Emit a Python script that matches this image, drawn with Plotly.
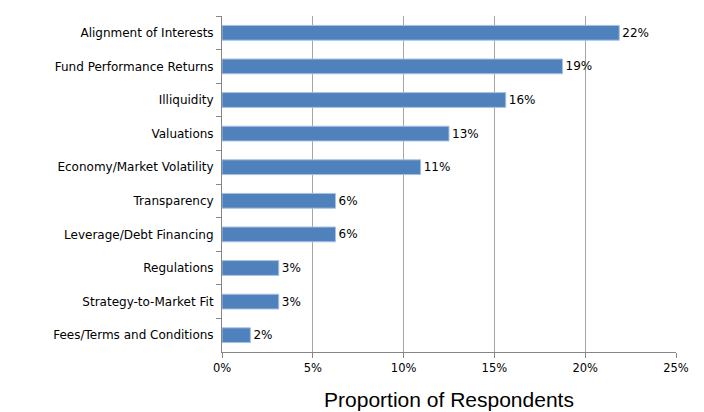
import plotly.graph_objects as go

categories = ["Alignment of Interests", "Fund Performance Returns", "Illiquidity", "Valuations",
              "Economy/Market Volatility", "Transparency", "Leverage/Debt Financing",
              "Regulations", "Strategy-to-Market Fit", "Fees/Terms and Conditions"]
values = [21.875, 18.75, 15.625, 12.5, 10.9375, 6.25, 6.25, 3.125, 3.125, 1.5625]
value_labels = ["22%", "19%", "16%", "13%", "11%", "6%", "6%", "3%", "3%", "2%"]
x_tickvals = [0, 5, 10, 15, 20, 25]
x_ticktext = ["0%", "5%", "10%", "15%", "20%", "25%"]

FONT = "DejaVu Sans"

fig = go.Figure(go.Bar(
    y=categories, x=values, orientation="h",
    marker=dict(color="#4F81BD", line=dict(color="#A9C1E0", width=1)),
    text=value_labels, textposition="outside", cliponaxis=False,
    textfont=dict(family=FONT, size=12, color="#000000"),
))

fig.update_layout(
    width=704, height=412,
    margin=dict(l=214, r=36, t=8, b=68),
    paper_bgcolor="white", plot_bgcolor="white",
    bargap=0.56, showlegend=False,
    font=dict(family=FONT, size=12, color="#000000"),
)
fig.update_xaxes(
    range=[0, 25], tickvals=x_tickvals, ticktext=x_ticktext,
    showgrid=True, gridcolor="#A6A6A6", gridwidth=1,
    showline=True, linecolor="#868686", linewidth=1,
    ticks="outside", ticklen=5, tickcolor="#868686",
    tickfont=dict(family=FONT, size=11.5, color="#000000"),
    zeroline=False,
    title=dict(text="Proportion of Respondents", font=dict(family="Liberation Sans", size=21, color="#000000"), standoff=18),
    automargin=False,
)
fig.update_yaxes(
    autorange="reversed",
    showline=True, linecolor="#868686", linewidth=1,
    ticks="outside", ticklen=5, tickcolor="#868686", tickson="boundaries",
    ticklabelstandoff=5,
    tickfont=dict(family=FONT, size=12, color="#000000"),
    showgrid=False, automargin=False,
)

fig.write_html("out.html")
